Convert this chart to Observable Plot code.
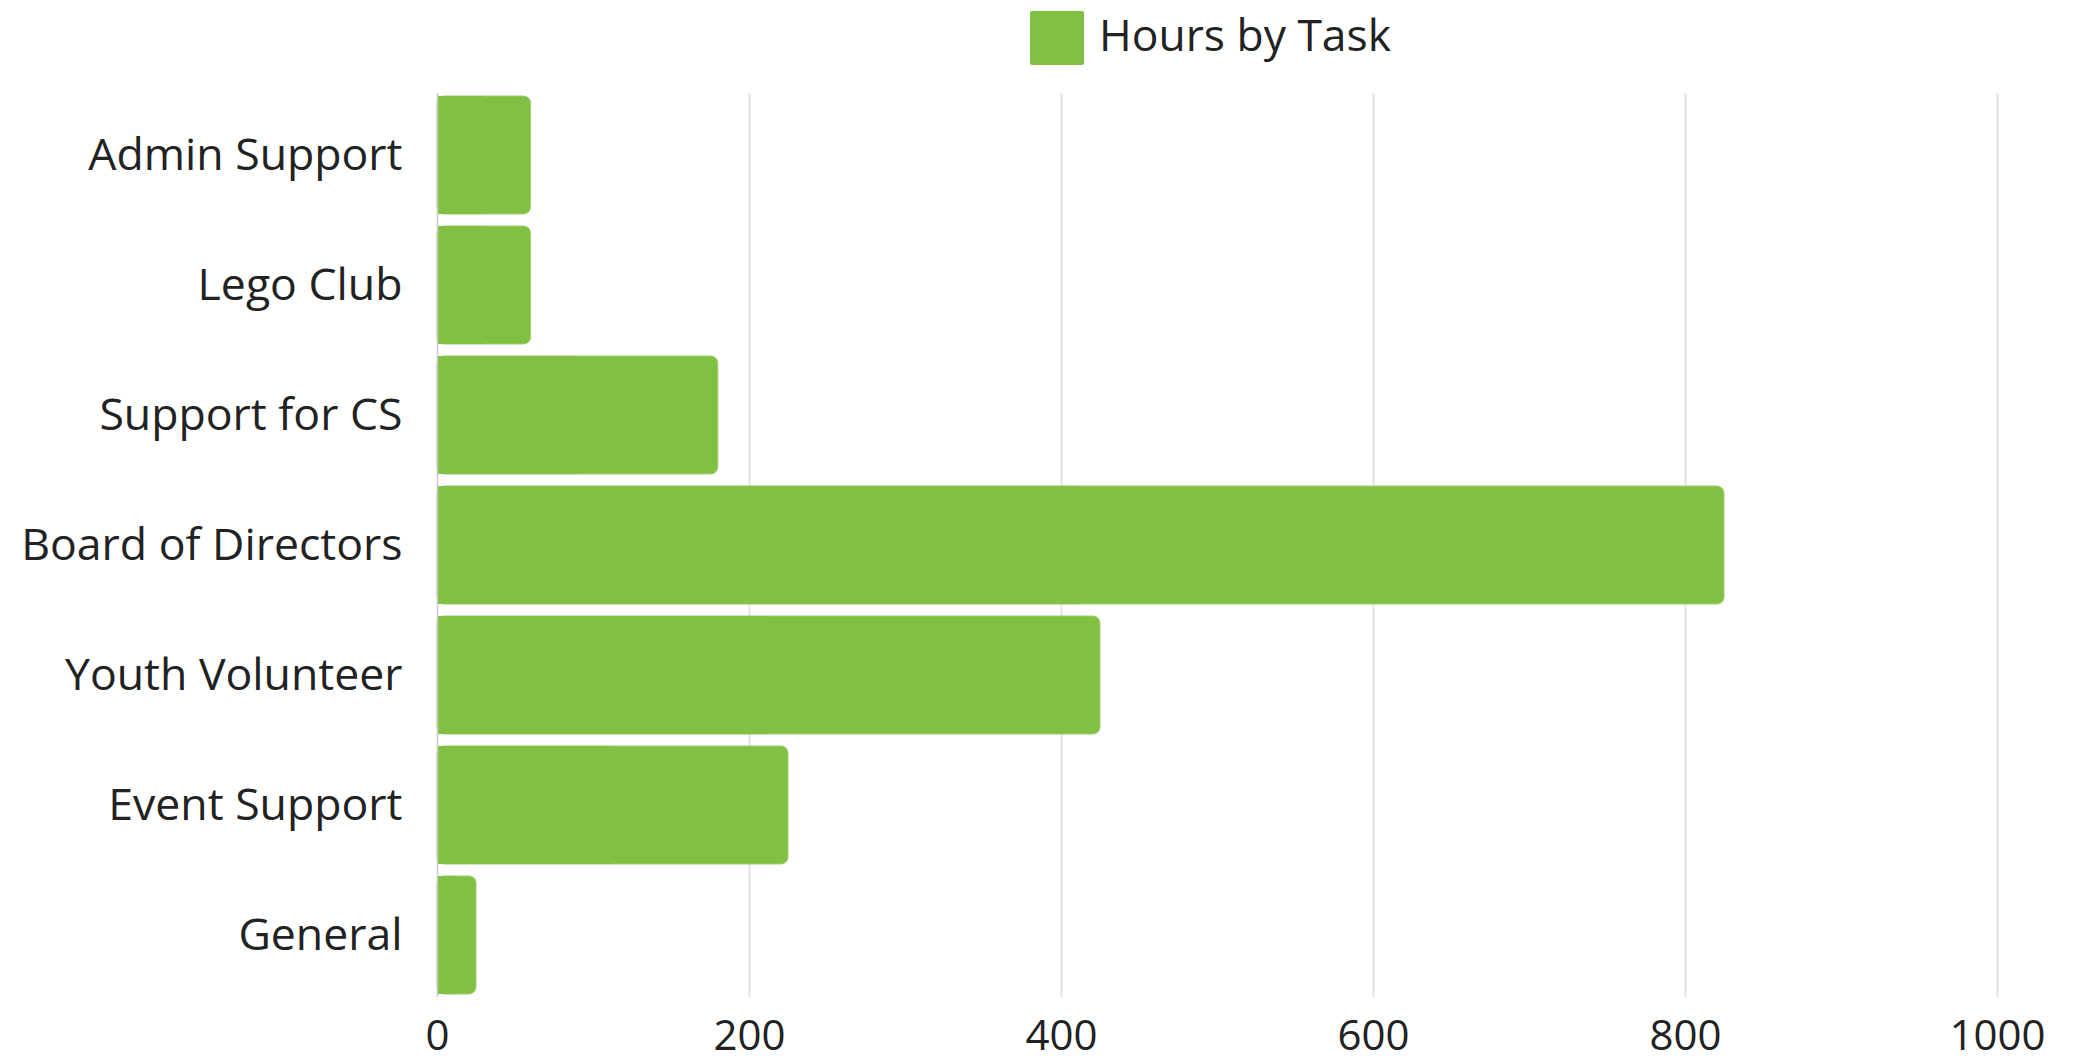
<!DOCTYPE html>
<html>
<head>
<meta charset="utf-8">
<script src="https://cdn.jsdelivr.net/npm/d3@7"></script>
<script src="https://cdn.jsdelivr.net/npm/@observablehq/plot@0.6"></script>
<style>
  html, body { margin: 0; padding: 0; background: #fff; }
  body { width: 2089px; height: 1062px; overflow: hidden; font-family: "Open Sans", sans-serif; color: #222; }
  #legend { height: 80px; display: flex; align-items: center; justify-content: flex-start; padding-left: 1030px; box-sizing: border-box; }
  #legend .sw { width: 54px; height: 54px; background: #82c043; border-radius: 2px; margin-right: 15px; margin-top: -4px; }
  #legend .lb { font-size: 44.4px; line-height: 1; margin-top: -12px; }
</style>
</head>
<body>
<div id="legend"><div class="sw"></div><div class="lb">Hours by Task</div></div>
<div id="chart"></div>
<script>
const categories = ["Admin Support", "Lego Club", "Support for CS", "Board of Directors", "Youth Volunteer", "Event Support", "General"];
const hours = [60, 60, 180, 825, 425, 225, 25];
const xTicks = [0, 200, 400, 600, 800, 1000];
const seriesName = "Hours by Task";
const barColor = "#82c043";

const data = categories.map((c, i) => ({task: c, hours: hours[i]}));

const chart = Plot.plot({
  width: 2089,
  height: 982,
  marginTop: 13,
  marginBottom: 65,
  marginLeft: 437,
  marginRight: 92,
  style: {fontFamily: "Open Sans, sans-serif", fontSize: "42px", color: "#222", background: "#fff"},
  x: {domain: [0, 1000], ticks: xTicks, tickFormat: d3.format("d"), axis: null},
  y: {domain: categories, paddingInner: 0.09, paddingOuter: 0, axis: null},
  marks: [
    Plot.ruleX(xTicks.filter(t => t > 0), {stroke: "#e2e2e2", strokeWidth: 2}),
    Plot.barX(data, {y: "task", x1: 0, x2: "hours", fill: barColor, rx: 7, stroke: "#9fcf6e", strokeWidth: 1}),
    Plot.barX(data, {y: "task", x1: 0, x2: d => d.hours / 2, fill: barColor}),
    Plot.ruleX([0], {stroke: "#c8c8c8", strokeWidth: 1.5}),
    Plot.axisX({ticks: xTicks, tickFormat: d3.format("d"), tickSize: 0, tickPadding: 23, label: null, fontSize: 42}),
    Plot.axisY({tickSize: 0, tickPadding: 35, label: null, fontSize: 44.6})
  ]
});
document.getElementById("chart").appendChild(chart);
</script>
</body>
</html>
